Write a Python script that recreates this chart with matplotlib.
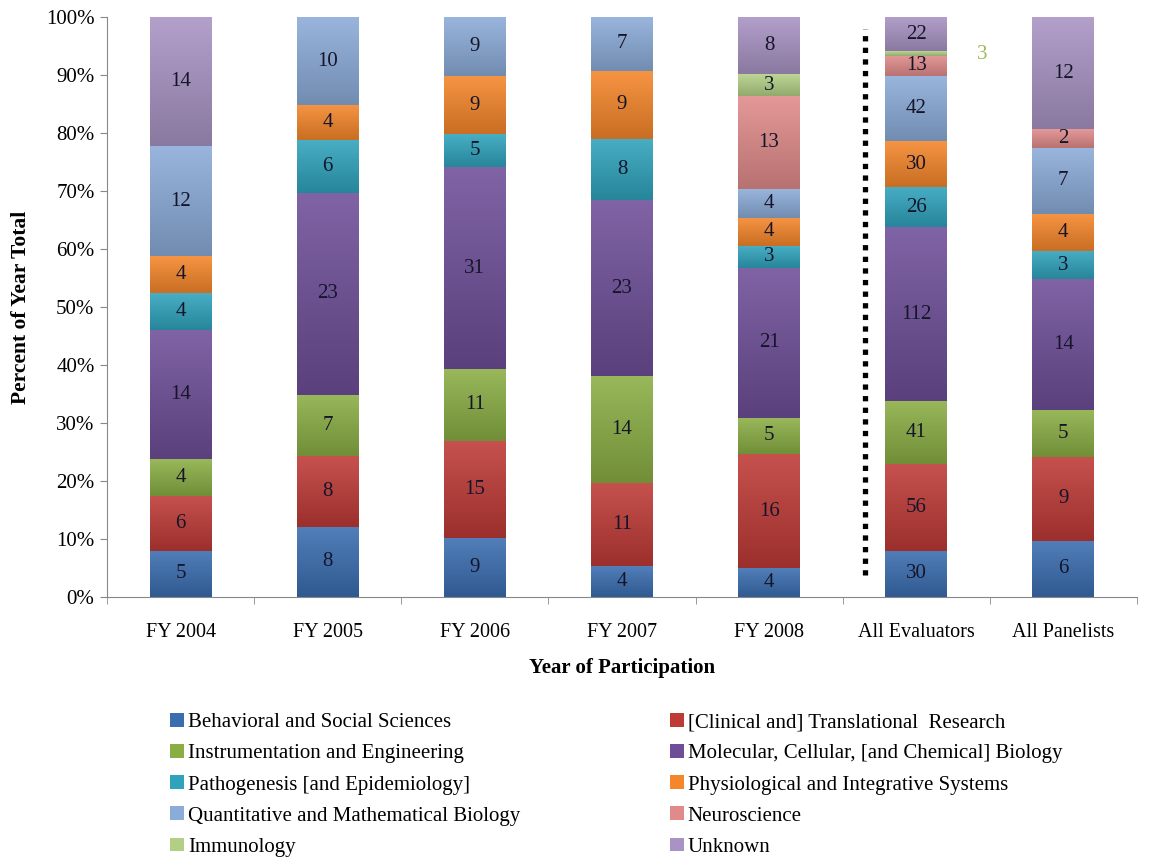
import matplotlib
matplotlib.use("Agg")
import matplotlib.pyplot as plt
import numpy as np
from matplotlib.patches import Patch
from matplotlib.colors import to_rgb

plt.rcParams['font.family'] = ['Liberation Serif', 'DejaVu Serif']

categories = ["FY 2004", "FY 2005", "FY 2006", "FY 2007", "FY 2008", "All Evaluators", "All Panelists"]
series_names = [
    "Behavioral and Social Sciences",
    "[Clinical and] Translational  Research",
    "Instrumentation and Engineering",
    "Molecular, Cellular, [and Chemical] Biology",
    "Pathogenesis [and Epidemiology]",
    "Physiological and Integrative Systems",
    "Quantitative and Mathematical Biology",
    "Neuroscience",
    "Immunology",
    "Unknown",
]
behavioral   = [5, 8, 9, 4, 4, 30, 6]
clinical     = [6, 8, 15, 11, 16, 56, 9]
instrument   = [4, 7, 11, 14, 5, 41, 5]
molecular    = [14, 23, 31, 23, 21, 112, 14]
pathogenesis = [4, 6, 5, 8, 3, 26, 3]
physiology   = [4, 4, 9, 9, 4, 30, 4]
quantitative = [12, 10, 9, 7, 4, 42, 7]
neuroscience = [0, 0, 0, 0, 13, 13, 2]
immunology   = [0, 0, 0, 0, 3, 3, 0]
unknown      = [14, 0, 0, 0, 8, 22, 12]

series = [behavioral, clinical, instrument, molecular, pathogenesis,
          physiology, quantitative, neuroscience, immunology, unknown]
colors = ["#3A6DB0", "#BE3A36", "#8AAE44", "#6E4E98", "#2FA3BC",
          "#F5862A", "#8BABD8", "#E08B8A", "#B3CF86", "#A893C4"]

data = np.array(series, dtype=float)
totals = data.sum(axis=0)
pct = data / totals * 100

fig = plt.figure(figsize=(11.61, 8.59), dpi=100)
ax = fig.add_axes([0.0922, 0.305, 0.887, 0.675])

x = np.arange(len(categories))
width = 0.42
bottom = np.zeros(len(categories))

def shade(c, f):
    r = np.array(to_rgb(c))
    if f >= 0:
        return r + (1 - r) * f
    return r * (1 + f)

NUM_FS = 15
for i, (vals, p, c) in enumerate(zip(data, pct, colors)):
    bars = ax.bar(x, p, width, bottom=bottom, color=c, edgecolor='none', zorder=2)
    for b, v, pp in zip(bars, vals, p):
        if pp <= 0:
            continue
        x0, y0 = b.get_x(), b.get_y()
        w, h = b.get_width(), b.get_height()
        top = shade(c, 0.12)
        bot = shade(c, -0.18)
        grad = np.linspace(0, 1, 64)[:, None, None]
        img = bot[None, None, :] * (1 - grad) + top[None, None, :] * grad
        im = ax.imshow(img, extent=[x0, x0 + w, y0, y0 + h], origin='lower',
                       aspect='auto', zorder=2.5, interpolation='bilinear')
        im.set_clip_path(b)
    for xi, v, pp, bt in zip(x, vals, p, bottom):
        if pp <= 0:
            continue
        if series_names[i] == "Immunology" and categories[xi] == "All Evaluators":
            ax.text(xi + 0.45, bt + pp / 2 - 0.2, f"{int(v)}", ha='center', va='center',
                    fontsize=NUM_FS, color="#9BBB59", zorder=4)
            continue
        if pp < 2:
            continue
        ax.text(xi, bt + pp / 2, f"{int(v)}", ha='center', va='center',
                fontsize=NUM_FS, color="#15152a", zorder=4)
    bottom += p

ax.set_xlim(-0.5, len(categories) - 0.5)
ax.set_ylim(0, 100)

# dotted separator
ax.plot([4.65, 4.65], [3.8, 98], color='black', linestyle=(0, (1, 1.2)), linewidth=3.8, zorder=3)

ax.set_yticks(np.arange(0, 101, 10))
ax.set_yticklabels([f"{v}%" for v in range(0, 101, 10)], fontsize=15)
ax.set_xticks(x)
ax.set_xticklabels(categories, fontsize=14.5)
ax.tick_params(axis='x', which='major', length=0, pad=19)
ax.set_xticks(np.arange(-0.5, len(categories), 1), minor=True)
ax.tick_params(axis='x', which='minor', length=5, color='#888888', direction='out')
ax.tick_params(axis='y', length=5, color='#888888', direction='out', pad=4)

for s in ['top', 'right']:
    ax.spines[s].set_visible(False)
for s in ['left', 'bottom']:
    ax.spines[s].set_color('#888888')

ax.set_ylabel("Percent of Year Total", fontsize=15.5, fontweight='bold', labelpad=11)
ax.set_xlabel("Year of Participation", fontsize=15, fontweight='bold', labelpad=11)

handles = [Patch(facecolor=c, edgecolor='none') for c in colors]
order = [0, 2, 4, 6, 8, 1, 3, 5, 7, 9]
leg = fig.legend([handles[k] for k in order], [series_names[k] for k in order],
                 ncol=2, loc='upper left', bbox_to_anchor=(0.1465, 0.170),
                 frameon=False, fontsize=15, handlelength=0.65, handleheight=0.65,
                 handletextpad=0.2, columnspacing=7.2, labelspacing=0.57,
                 borderaxespad=0, borderpad=0)

fig.savefig("out.png", dpi=100)
